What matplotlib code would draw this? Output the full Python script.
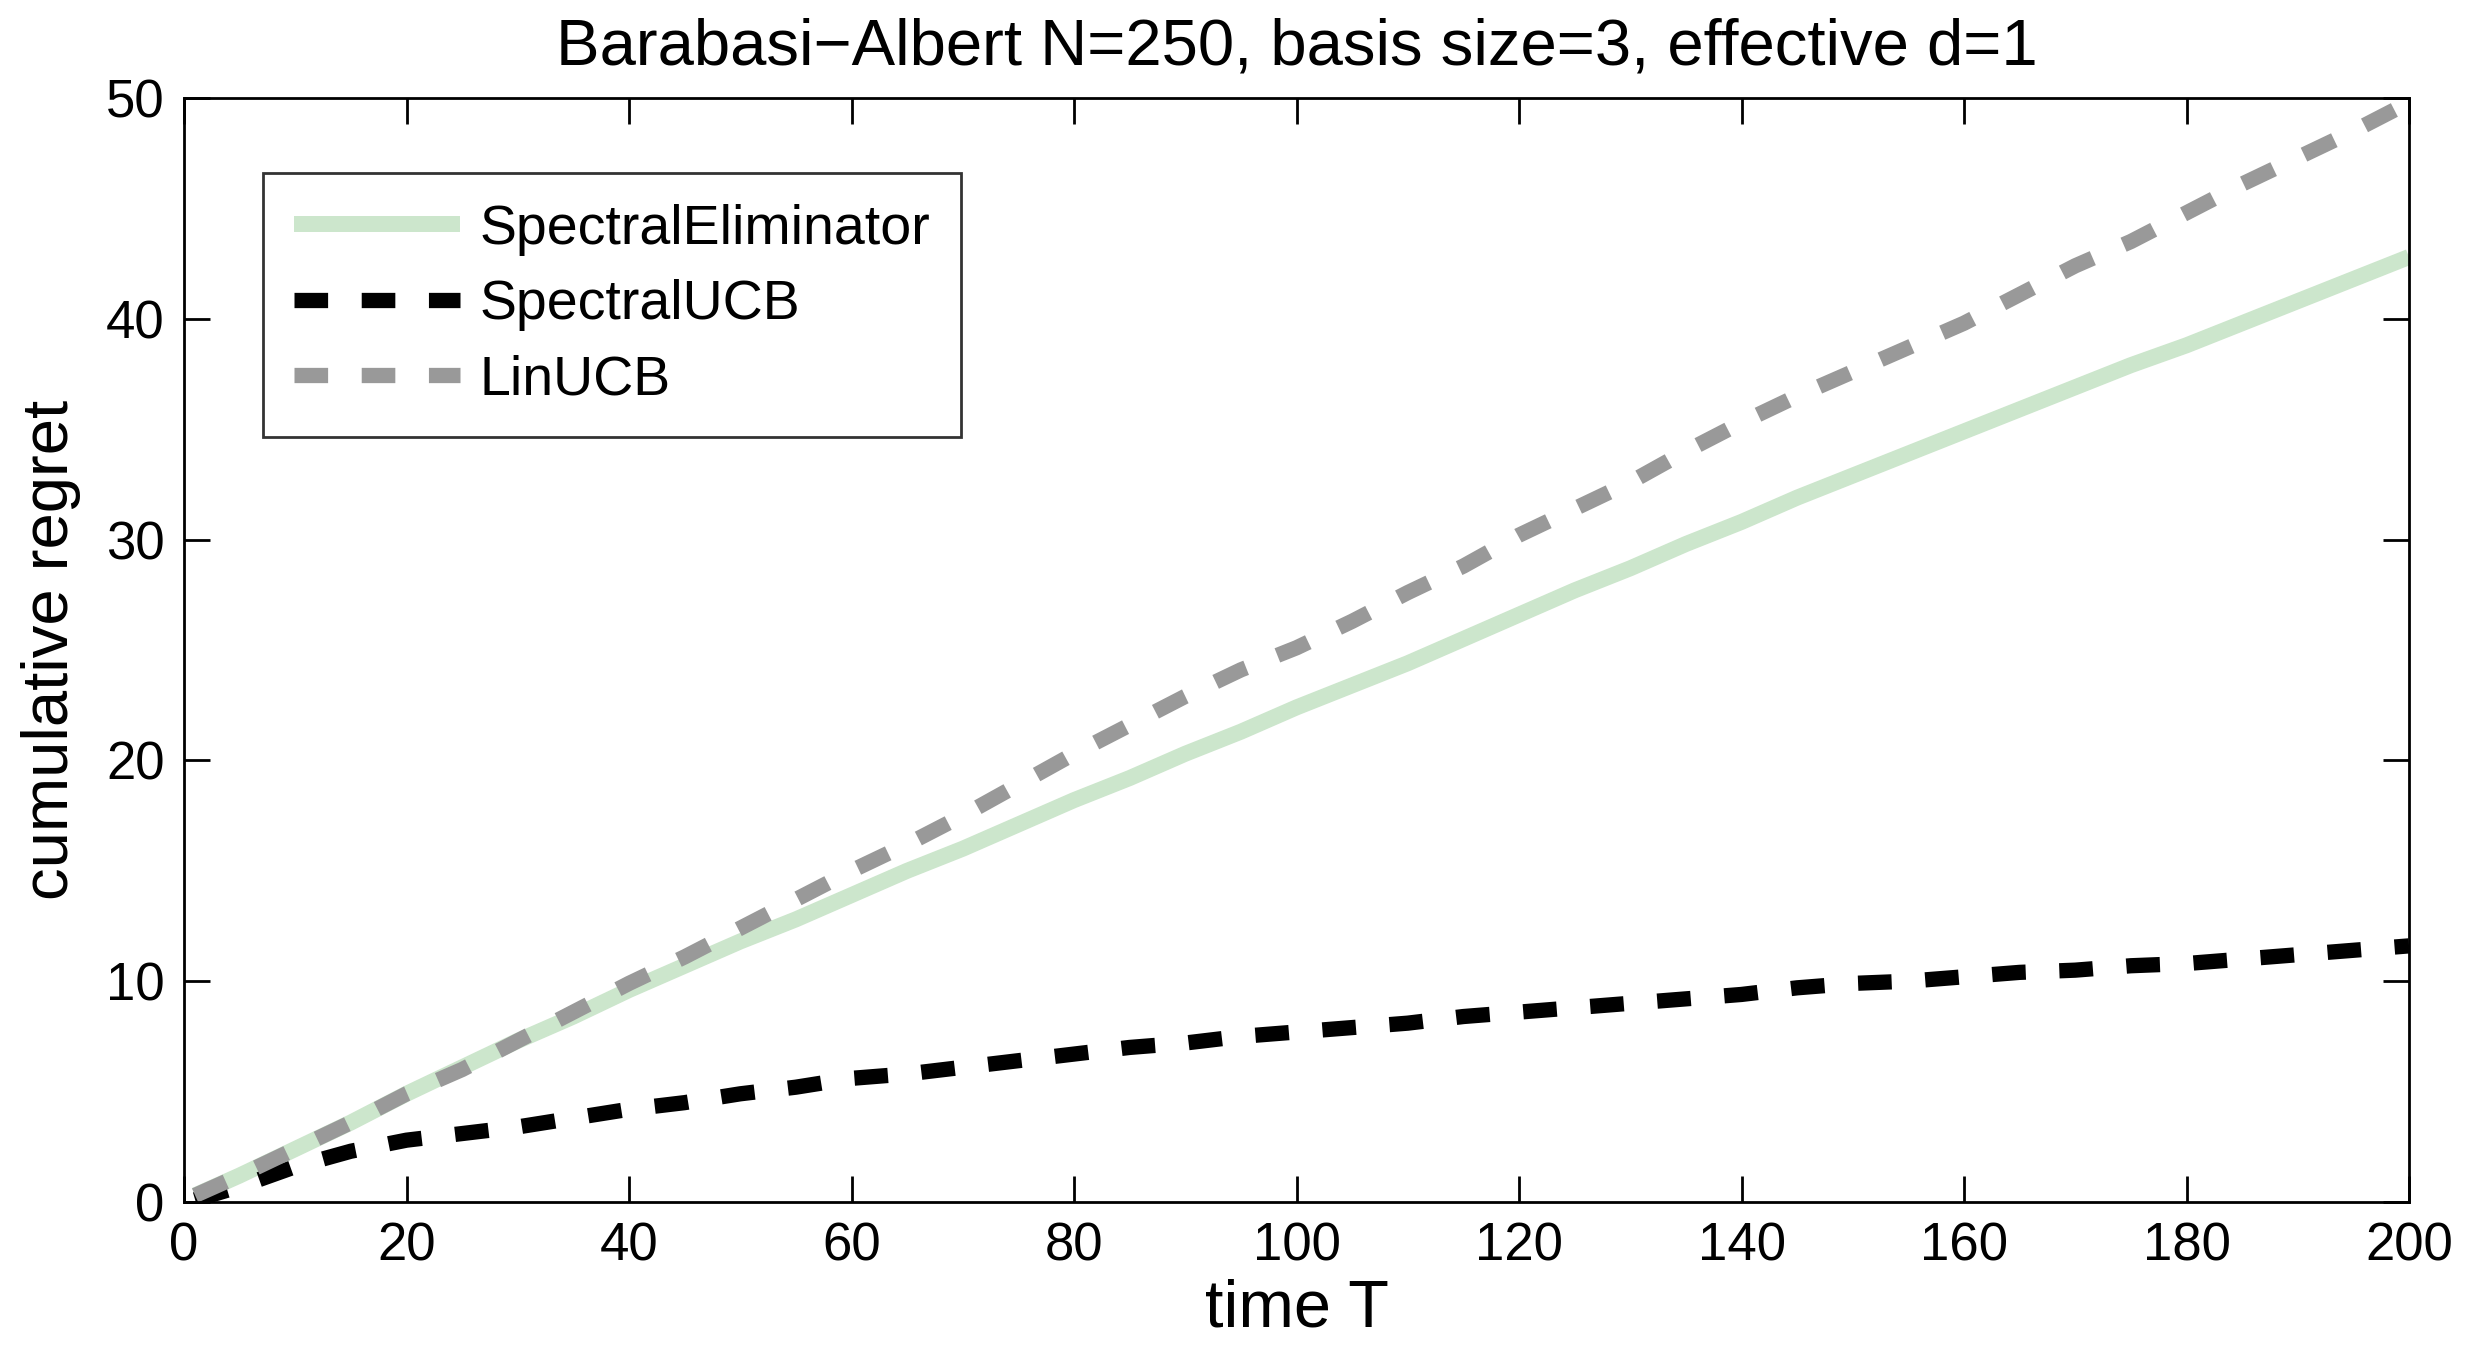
import matplotlib.pyplot as plt
import numpy as np

plt.rcParams['font.family'] = ['Liberation Sans', 'DejaVu Sans']

## time steps and cumulative regret
time_T = [1, 5, 10, 15, 20, 25, 30, 35, 40, 45, 50, 55, 60, 65, 70, 75, 80, 85, 90, 95, 100,
          105, 110, 115, 120, 125, 130, 135, 140, 145, 150, 155, 160, 165, 170, 175, 180,
          185, 190, 195, 200]

spectral_elim = [0.3, 1.2, 2.4, 3.6, 4.9, 6.1, 7.3, 8.4, 9.6, 10.7, 11.8, 12.8, 13.9, 15.0,
                 16.0, 17.1, 18.2, 19.2, 20.3, 21.3, 22.4, 23.4, 24.4, 25.5, 26.6, 27.7,
                 28.7, 29.8, 30.8, 31.9, 32.9, 33.9, 34.9, 35.9, 36.9, 37.9, 38.8, 39.8,
                 40.8, 41.8, 42.8]

spectral_ucb = [0.1, 0.7, 1.6, 2.3, 2.8, 3.1, 3.4, 3.8, 4.2, 4.5, 4.9, 5.2, 5.6, 5.8, 6.1,
                6.4, 6.7, 7.0, 7.2, 7.5, 7.7, 7.9, 8.1, 8.4, 8.6, 8.8, 9.0, 9.2, 9.4, 9.7,
                9.9, 10.0, 10.2, 10.4, 10.5, 10.7, 10.8, 11.0, 11.2, 11.4, 11.6]

lin_ucb = [0.3, 1.2, 2.4, 3.6, 4.9, 6.0, 7.3, 8.6, 9.9, 11.1, 12.4, 13.7, 15.0, 16.2, 17.5,
           18.9, 20.3, 21.6, 22.9, 24.1, 25.1, 26.3, 27.6, 28.8, 30.2, 31.4, 32.6, 34.0,
           35.3, 36.5, 37.6, 38.7, 39.8, 41.1, 42.4, 43.5, 44.8, 46.1, 47.3, 48.5, 49.8]

x_ticks = np.arange(0, 201, 20)
y_ticks = np.arange(0, 51, 10)

fig = plt.figure(figsize=(24.87, 13.45), dpi=100)
ax1 = fig.add_axes([184/2487, 1-1202/1345, (2409-184)/2487, (1202-98)/1345])

ax1.plot(time_T, spectral_elim, color='#cce6cc', linewidth=11.5, label='SpectralEliminator',
         solid_capstyle='butt')
ax1.plot(time_T, spectral_ucb, color='black', linewidth=11, dashes=(2.2, 2.2),
         label='SpectralUCB', dash_capstyle='butt')
ax1.plot(time_T, lin_ucb, color='#999999', linewidth=11, dashes=(2.2, 2.2),
         label='LinUCB', dash_capstyle='butt')

ax1.set_xlim(0, 200)
ax1.set_ylim(0, 50)
ax1.set_xticks(x_ticks)
ax1.set_yticks(y_ticks)
ax1.tick_params(direction='in', length=19, width=2, labelsize=38, top=True, right=True, pad=14)
for sp in ax1.spines.values():
    sp.set_linewidth(2)

ax1.set_title('Barabasi\u2212Albert N=250, basis size=3, effective d=1', fontsize=47, pad=24)
ax1.set_xlabel('time T', fontsize=48, labelpad=5)
ax1.set_ylabel('cumulative regret', fontsize=47, labelpad=18)

leg = ax1.legend(loc='upper left', bbox_to_anchor=(0.0355, 0.932), fontsize=40, frameon=True,
                 fancybox=False, borderaxespad=0, handlelength=3.0, handletextpad=0.35,
                 labelspacing=0.42, borderpad=0.55)
leg.get_frame().set_edgecolor('black')
leg.get_frame().set_linewidth(2)

fig.savefig('out.png', dpi=100)
